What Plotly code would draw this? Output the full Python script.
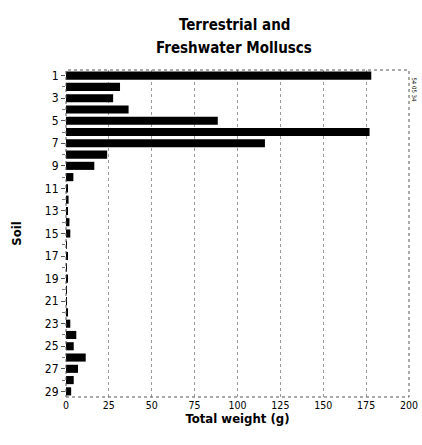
import plotly.graph_objects as go

soils = list(range(1, 30))
weights = [178, 31.5, 27.5, 36.5, 88.5, 177, 116, 24, 16.5, 4.3,
           1, 1.5, 1, 2, 2.5, 0.5, 1, 0.5, 1, 0.3,
           0.3, 0.7, 2.5, 6, 4.5, 11.5, 7, 4.5, 3]
x_ticks = [0, 25, 50, 75, 100, 125, 150, 175, 200]
x_tick_labels = ["0", "25", "50", "75", "100", "125", "150", "175", "200"]
y_ticks = list(range(1, 30, 2))
title_lines = ["Terrestrial and", "Freshwater Molluscs"]

FONT = "DejaVu Sans Condensed, Liberation Sans Narrow, Arial Narrow, sans-serif"

fig = go.Figure()
fig.add_trace(go.Bar(
    x=weights, y=soils, orientation="h",
    marker=dict(color="black", line=dict(width=0)),
    width=0.72,
))

fig.update_layout(
    width=422, height=445,
    margin=dict(l=66, r=13, t=70, b=48, autoexpand=False),
    paper_bgcolor="white", plot_bgcolor="white",
    showlegend=False,
    font=dict(family=FONT, color="black", size=11),
    xaxis=dict(range=[0, 200], tickvals=x_ticks, ticktext=x_tick_labels,
               showgrid=True, gridcolor="#9a9a9a", griddash="dot", gridwidth=1,
               zeroline=False, showline=False, ticks="", automargin=False,
               ticklabeloverflow="allow",
               tickfont=dict(size=10.5, family=FONT),
               title=dict(text="<b>Total weight (g)</b>", standoff=4,
                          font=dict(size=13, family=FONT))),
    yaxis=dict(range=[29.5, 0.5], tickvals=y_ticks, automargin=False,
               showgrid=False, zeroline=False, showline=False,
               ticks="outside", ticklen=4, tickcolor="#555",
               minor=dict(dtick=1, tick0=0, ticks="outside", ticklen=3, tickcolor="#777"),
               tickfont=dict(size=12, family=FONT),
               title=dict(text="<b>Soil</b>", standoff=20,
                          font=dict(size=13, family=FONT))),
)

fig.update_xaxes(tickprefix="<b>", ticksuffix="</b>")
fig.update_yaxes(tickprefix="<b>", ticksuffix="</b>")

fig.add_shape(type="rect", xref="paper", yref="paper", x0=0, x1=1, y0=0, y1=1,
              line=dict(color="#555", width=1, dash="dot"), layer="above")

for i, line in enumerate(title_lines):
    fig.add_annotation(text=f"<b>{line}</b>", xref="paper", yref="paper",
                       x=0.49, y=1, yshift=[45, 22][i], yanchor="middle",
                       xanchor="center", showarrow=False,
                       font=dict(size=15, family=FONT, color="black"))

fig.add_annotation(text="54 05 34", xref="paper", yref="paper",
                   x=1.0, y=0.985, xanchor="center", yanchor="top", xshift=6,
                   textangle=90, showarrow=False,
                   font=dict(size=6, family=FONT, color="black"))

fig.write_html("out.html", config={"displayModeBar": False},
               post_script="document.body.style.margin='0';document.body.style.padding='0';")
